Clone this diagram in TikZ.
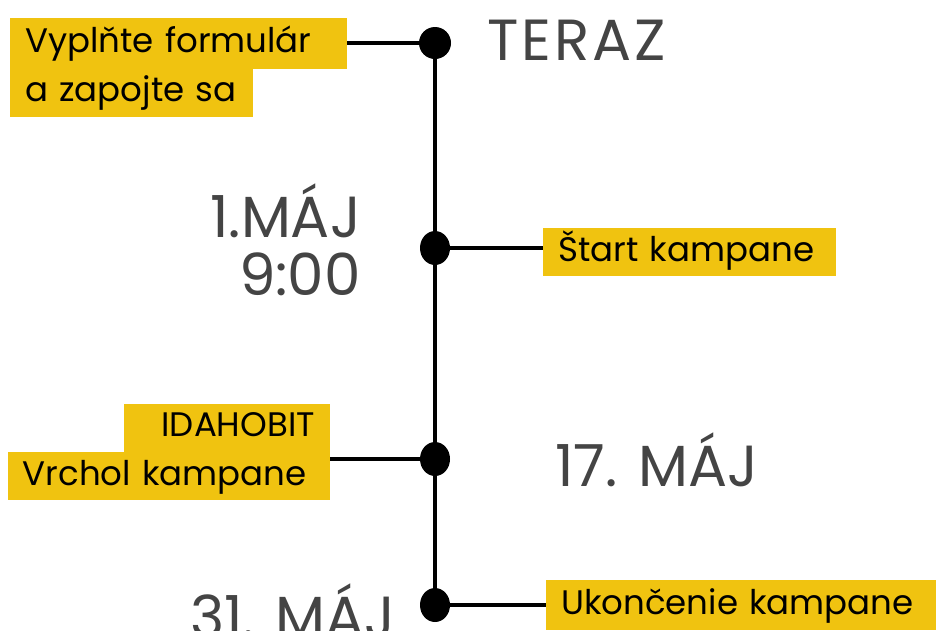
\documentclass[tikz,border=0pt]{standalone}
\usepackage{fontspec}
\setmainfont{Poppins}
\usetikzlibrary{shapes.geometric}
\definecolor{tagyellow}{RGB}{240,195,16}
\definecolor{dategray}{RGB}{68,68,68}
\tikzset{
  tag/.style={fill=tagyellow, inner xsep=15pt, inner ysep=0pt, minimum height=48pt,
    font=\fontsize{34}{40}\selectfont, text depth=8pt, text height=26pt},
  date/.style={text=dategray, font=\fontsize{58}{58}\selectfont, inner sep=0pt},
  dot/.style={ellipse, fill=black, minimum width=30pt, minimum height=34pt, inner sep=0pt},
  link/.style={line width=3.2pt},
}
\begin{document}
\begin{tikzpicture}[x=1pt, y=-1pt]
  \useasboundingbox (0,0) rectangle (936,630);

  % timeline dots
  \node[dot, minimum width=32pt, minimum height=32pt] (now) at (435,43) {};
  \node[dot] (start) at (435,248) {};
  \node[dot] (peak) at (435,459) {};
  \node[dot] (end) at (435,605) {};
  \draw[link] (now) -- (start) -- (peak) -- (end);

  % yellow labels
  \node[tag, anchor=west, text width=307pt, minimum height=51pt] (form) at (10,43) {Vyplňte formulár};
  \node[tag, anchor=north west, text width=213pt] (join) at (form.south west) {a zapojte sa};
  \node[tag, anchor=west, text width=263pt] (kick) at (543,252) {Štart kampane};
  \node[tag, anchor=south east, text width=176pt, align=right] (idaho) at (330,452) {IDAHOBIT};
  \node[tag, anchor=north east, text width=292pt] (top) at (idaho.south east) {Vrchol kampane};
  \node[tag, anchor=west, text width=360pt, minimum height=50pt] (close) at (546,605) {Ukončenie kampane};

  \coordinate (topin) at (330,459);
  \draw[link] (form.east) -- (now);
  \draw[link] (start) -- (start -| kick.west);
  \draw[link] (topin) -- (peak);
  \draw[link] (end) -- (close.west);

  % dates
  \node[date, anchor=west, font=\fontsize{58}{58}\selectfont\addfontfeature{LetterSpace=5}] (teraz) at (487,40) {TERAZ};
  \node[date, anchor=east, align=right] (may1) at (361,240) {1.MÁJ\\9:00};
  \node[date, anchor=west] (may17) at (555,460) {17. MÁJ};
  \node[date, anchor=west] (may31) at (190,611) {31. MÁJ};
\end{tikzpicture}
\end{document}
